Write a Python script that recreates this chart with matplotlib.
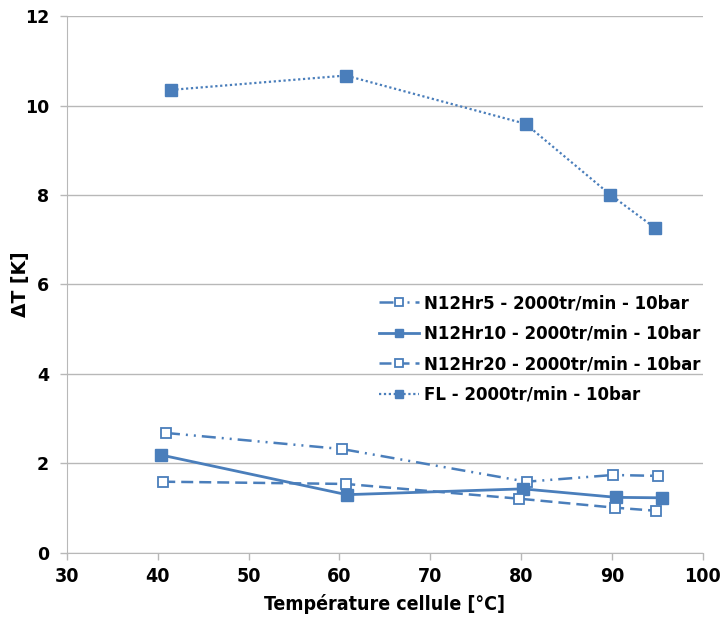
import matplotlib
matplotlib.use("Agg")
import matplotlib.pyplot as plt

# data
t_hr5 = [40.9, 60.3, 80.6, 90.1, 95.1]
dt_hr5 = [2.68, 2.32, 1.59, 1.74, 1.72]

t_hr10 = [40.3, 60.8, 80.2, 90.5, 95.5]
dt_hr10 = [2.19, 1.30, 1.43, 1.24, 1.23]

t_hr20 = [40.6, 60.7, 79.8, 90.3, 94.9]
dt_hr20 = [1.59, 1.54, 1.21, 1.01, 0.94]

t_fl = [41.5, 60.7, 80.5, 89.8, 94.7]
dt_fl = [10.35, 10.67, 9.59, 8.01, 7.27]

labels = ["N12Hr5 - 2000tr/min - 10bar",
          "N12Hr10 - 2000tr/min - 10bar",
          "N12Hr20 - 2000tr/min - 10bar",
          "FL - 2000tr/min - 10bar"]

blue = "#4a7ebb"
grey = "#b8b8b8"

fig = plt.figure(figsize=(7.2, 6.17), dpi=100)
ax = fig.add_axes([0.093, 0.104, 0.883, 0.870])

ax.plot(t_hr5, dt_hr5, color=blue, lw=1.8, ls=(0, (5.6, 2.4, 0.8, 2.4, 0.8, 2.4)),
        marker="s", ms=7, mfc="white", mec=blue, mew=1.3, label=labels[0])
ax.plot(t_hr10, dt_hr10, color=blue, lw=2, ls="-",
        marker="s", ms=8, mfc=blue, mec=blue, label=labels[1])
ax.plot(t_hr20, dt_hr20, color=blue, lw=1.8, ls=(0, (4.8, 2.4)),
        marker="s", ms=7, mfc="white", mec=blue, mew=1.3, label=labels[2])
ax.plot(t_fl, dt_fl, color=blue, lw=1.6, ls=(0, (1, 1.2)),
        marker="s", ms=8, mfc=blue, mec=blue, label=labels[3])

ax.set_xlim(30, 100)
ax.set_ylim(0, 12)
ax.set_xticks(range(30, 101, 10))
ax.set_yticks(range(0, 13, 2))

ax.yaxis.grid(True, color=grey, lw=1)
ax.set_axisbelow(True)
for s in ["top", "right"]:
    ax.spines[s].set_visible(False)
for s in ["left", "bottom"]:
    ax.spines[s].set_color(grey)
ax.tick_params(axis="both", colors=grey, length=5, width=1)
ax.tick_params(axis="x", labelcolor="black", labelsize=14, pad=5)
ax.tick_params(axis="y", labelcolor="black", labelsize=12.5, pad=8)

for lab in ax.get_xticklabels():
    lab.set_fontweight("bold")
    lab.set_fontstretch("condensed")
for lab in ax.get_yticklabels():
    lab.set_fontweight("bold")

ax.set_xlabel("Température cellule [°C]", fontsize=14, fontweight="bold",
              fontstretch="condensed", labelpad=6)
ax.set_ylabel("ΔT [K]", fontsize=13.5, fontweight="bold")
ax.yaxis.set_label_coords(-0.058, 0.5)

leg = ax.legend(loc="upper right", bbox_to_anchor=(1.02, 0.51), frameon=False,
                prop={"weight": "bold", "size": 12}, handlelength=2.4,
                handletextpad=0.3, labelspacing=0.75, markerscale=0.75)

fig.savefig("out.png", dpi=100)
